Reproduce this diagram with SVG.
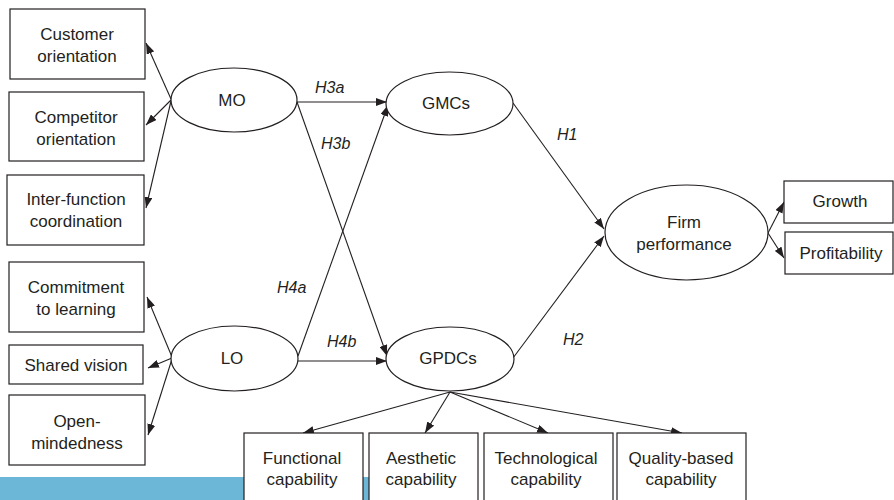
<svg xmlns="http://www.w3.org/2000/svg" width="894" height="500" viewBox="0 0 894 500">
<defs>
<marker id="ah" markerUnits="userSpaceOnUse" markerWidth="11" markerHeight="8" refX="11" refY="4" orient="auto">
<path d="M0,0 L11,4 L0,8 z" fill="#231f20"/>
</marker>
<style>
.box{fill:#fff;stroke:#231f20;stroke-width:1.2}
.ell{fill:#fff;stroke:#231f20;stroke-width:1.2}
.t{font-family:"Liberation Sans",Arial,sans-serif;font-size:17px;fill:#231f20;text-anchor:middle}
.h{font-family:"Liberation Sans",Arial,sans-serif;font-size:16px;font-style:italic;fill:#231f20}
.c{stroke:#231f20;stroke-width:1.1;fill:none;marker-end:url(#ah)}
</style>
</defs>
<rect x="0" y="477" width="440" height="23" fill="#6cb7d7"/>
<g id="connectors">
<line class="c" x1="171" y1="99" x2="146" y2="43"/>
<line class="c" x1="171" y1="100" x2="146" y2="125"/>
<line class="c" x1="171" y1="101" x2="146" y2="208"/>
<line class="c" x1="172" y1="357" x2="147" y2="297"/>
<line class="c" x1="172" y1="358" x2="148" y2="368"/>
<line class="c" x1="172" y1="359" x2="148" y2="435"/>
<line class="c" x1="297" y1="102" x2="387" y2="102"/>
<line class="c" x1="297" y1="102" x2="387" y2="356"/>
<line class="c" x1="298" y1="356" x2="388" y2="105"/>
<line class="c" x1="298" y1="361" x2="387" y2="361"/>
<line class="c" x1="513" y1="103" x2="604" y2="229"/>
<line class="c" x1="513" y1="358" x2="604" y2="236"/>
<line class="c" x1="768" y1="233" x2="784" y2="202"/>
<line class="c" x1="768" y1="233" x2="784" y2="258"/>
<line class="c" x1="450" y1="392" x2="303" y2="433"/>
<line class="c" x1="450" y1="392" x2="425" y2="433"/>
<line class="c" x1="450" y1="392" x2="548" y2="433"/>
<line class="c" x1="450" y1="392" x2="682" y2="433"/>
</g>
<g id="labels">
<text class="h" x="315" y="93">H3a</text>
<text class="h" x="321" y="149">H3b</text>
<text class="h" x="557" y="140">H1</text>
<text class="h" x="277" y="293">H4a</text>
<text class="h" x="327" y="347">H4b</text>
<text class="h" x="563" y="345">H2</text>
</g>
<g id="customer"><rect class="box" x="10" y="9" width="135" height="70"/><text class="t" x="77" y="40">Customer</text><text class="t" x="77" y="62">orientation</text></g>
<g id="competitor"><rect class="box" x="9" y="92" width="135" height="69"/><text class="t" x="76" y="123">Competitor</text><text class="t" x="76" y="145">orientation</text></g>
<g id="interfunction"><rect class="box" x="7" y="175" width="137" height="70"/><text class="t" x="76" y="205">Inter-function</text><text class="t" x="76" y="227">coordination</text></g>
<g id="commitment"><rect class="box" x="9" y="262" width="135" height="70"/><text class="t" x="76" y="293">Commitment</text><text class="t" x="76" y="315">to learning</text></g>
<g id="sharedvision"><rect class="box" x="9" y="345" width="134" height="39"/><text class="t" x="76" y="371">Shared vision</text></g>
<g id="openmindedness"><rect class="box" x="9" y="395" width="136" height="70"/><text class="t" x="77" y="427">Open-</text><text class="t" x="77" y="449">mindedness</text></g>
<g id="MO"><ellipse class="ell" cx="234" cy="100" rx="63" ry="32"/><text class="t" x="232" y="106">MO</text></g>
<g id="LO"><ellipse class="ell" cx="234.5" cy="358.5" rx="63.5" ry="32.5"/><text class="t" x="232" y="364">LO</text></g>
<g id="GMCs"><ellipse class="ell" cx="449.5" cy="103.5" rx="63.5" ry="31.5"/><text class="t" x="446" y="109">GMCs</text></g>
<g id="GPDCs"><ellipse class="ell" cx="450" cy="359" rx="64" ry="32"/><text class="t" x="448" y="364">GPDCs</text></g>
<g id="firm"><ellipse class="ell" cx="686.5" cy="232.5" rx="81.5" ry="47.5"/><text class="t" x="684" y="228">Firm</text><text class="t" x="684" y="250">performance</text></g>
<g id="growth"><rect class="box" x="784" y="181" width="109" height="42"/><text class="t" x="840" y="207">Growth</text></g>
<g id="profitability"><rect class="box" x="785" y="232" width="108" height="42"/><text class="t" x="841" y="259">Profitability</text></g>
<g id="functional"><rect class="box" x="244" y="433" width="119" height="80"/><text class="t" x="302" y="464">Functional</text><text class="t" x="302" y="485">capability</text></g>
<g id="aesthetic"><rect class="box" x="369" y="433" width="109" height="80"/><text class="t" x="421" y="464">Aesthetic</text><text class="t" x="421" y="485">capability</text></g>
<g id="technological"><rect class="box" x="484" y="433" width="129" height="80"/><text class="t" x="546" y="464">Technological</text><text class="t" x="546" y="485">capability</text></g>
<g id="quality"><rect class="box" x="617" y="433" width="129" height="80"/><text class="t" x="681" y="464">Quality-based</text><text class="t" x="681" y="485">capability</text></g>
</svg>
